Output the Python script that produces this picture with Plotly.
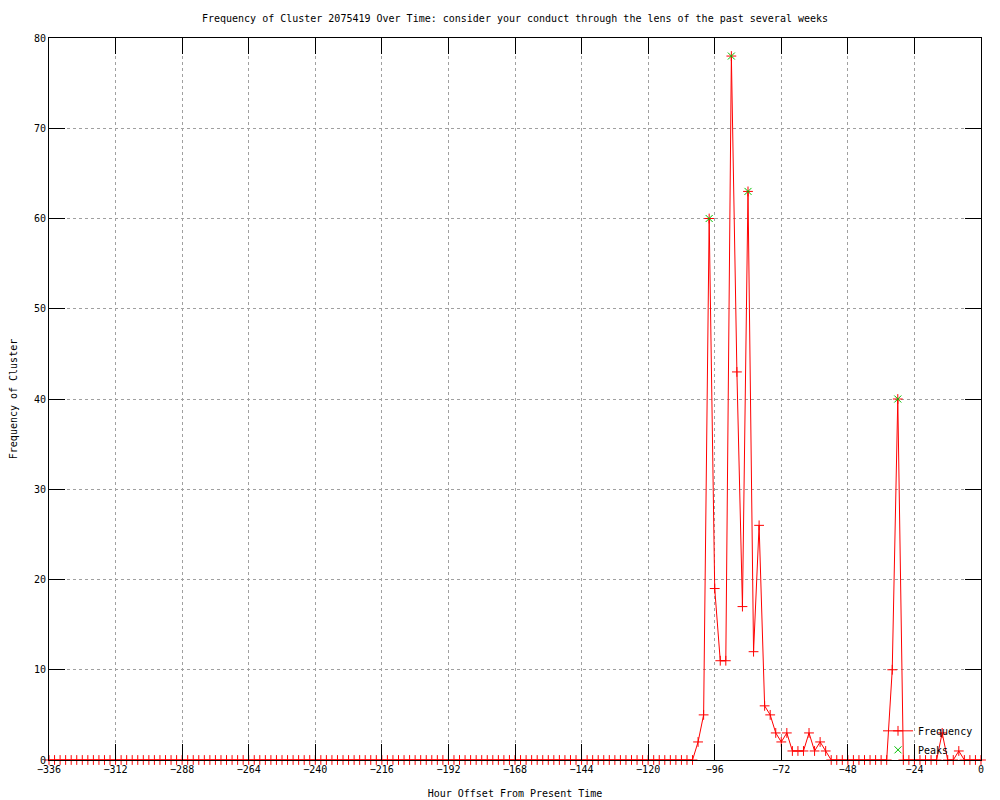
import plotly.graph_objects as go

TITLE = ("Frequency of Cluster 2075419 Over Time: consider your conduct "
         "through the lens of the past several weeks")
X_LABEL = "Hour Offset From Present Time"
Y_LABEL = "Frequency of Cluster"

# hours from -336 to 0 in steps of 2
hours = list(range(-336, 1, 2))

frequency = [
    0, 0, 0, 0, 0, 0, 0, 0, 0, 0, 0, 0, 0, 0, 0, 0, 0, 0, 0, 0,   # -336 .. -298
    0, 0, 0, 0, 0, 0, 0, 0, 0, 0, 0, 0, 0, 0, 0, 0, 0, 0, 0, 0,   # -296 .. -258
    0, 0, 0, 0, 0, 0, 0, 0, 0, 0, 0, 0, 0, 0, 0, 0, 0, 0, 0, 0,   # -256 .. -218
    0, 0, 0, 0, 0, 0, 0, 0, 0, 0, 0, 0, 0, 0, 0, 0, 0, 0, 0, 0,   # -216 .. -178
    0, 0, 0, 0, 0, 0, 0, 0, 0, 0, 0, 0, 0, 0, 0, 0, 0, 0, 0, 0,   # -176 .. -138
    0, 0, 0, 0, 0, 0, 0, 0, 0, 0, 0, 0, 0, 0, 0, 0, 0,            # -136 .. -104
    2, 5, 60, 19, 11, 11, 78, 43, 17, 63, 12, 26,                 # -102 .. -80
    6, 5, 3, 2, 3, 1, 1, 1, 3, 1, 2, 1,                           # -78 .. -56
    0, 0, 0, 0, 0, 0, 0, 0, 0, 0, 0,                              # -54 .. -34
    10, 40,                                                       # -32, -30
    0, 0, 0, 0, 0, 0, 0,                                          # -28 .. -16
    3, 0, 0, 1, 0, 0, 0, 0, 0,                                    # -14 .. 0
]

peak_hours = [-98, -90, -84, -30]
peak_values = [60, 78, 63, 40]

x_ticks = list(range(-336, 1, 24))
y_ticks = list(range(0, 81, 10))

FONT = "DejaVu Sans Mono"
RED = "#ff0000"
GREEN = "#00c000"
GRID = "#a0a0a0"

fig = go.Figure()
fig.add_trace(go.Scatter(
    x=hours, y=frequency, mode="lines+markers", name="Frequency",
    line=dict(color=RED, width=1),
    marker=dict(symbol="cross-thin-open", size=7, color=RED,
                line=dict(color=RED, width=1)),
    cliponaxis=False,
))
fig.add_trace(go.Scatter(
    x=peak_hours, y=peak_values, mode="markers", name="Peaks",
    marker=dict(symbol="x-thin-open", size=7, color=GREEN,
                line=dict(color=GREEN, width=1)),
    cliponaxis=False,
))

axis_common = dict(
    showline=True, linecolor="black", linewidth=1, mirror="allticks",
    ticks="inside", ticklen=16, tickwidth=1, tickcolor="black",
    showgrid=True, gridcolor=GRID, griddash="dot", gridwidth=1,
    zeroline=False,
    tickfont=dict(family=FONT, size=10, color="black"),
)

# page body has an 8px default margin; compensate so the plot area lands
# at x 49..981, y 38..760 in the window
fig.update_layout(
    width=1000, height=800,
    margin=dict(l=41, r=27, t=30, b=48),
    paper_bgcolor="white", plot_bgcolor="white",
    font=dict(family=FONT, size=10, color="black"),
    title=dict(text=TITLE, x=0.5, xref="paper", y=1 - 10 / 800,
               yref="container", yanchor="middle",
               font=dict(family=FONT, size=10, color="black")),
    xaxis=dict(range=[-336, 0], tickvals=x_ticks,
               title=dict(text=X_LABEL, standoff=15,
                          font=dict(family=FONT, size=10)),
               automargin=False, **axis_common),
    yaxis=dict(range=[0, 80], tickvals=y_ticks,
               title=dict(text=Y_LABEL, standoff=16,
                          font=dict(family=FONT, size=10)),
               automargin=False, **axis_common),
    legend=dict(x=(978 - 49) / 932, xanchor="right",
                y=-0.006, yanchor="bottom",
                bgcolor="rgba(0,0,0,0)", borderwidth=0,
                font=dict(family=FONT, size=10, color="black"),
                tracegroupgap=0, itemwidth=30),
)

fig.write_html("out.html")
